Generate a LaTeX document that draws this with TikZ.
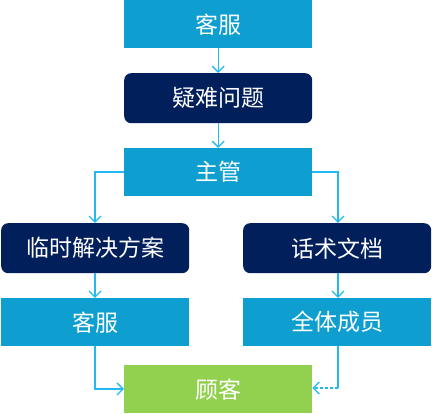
\documentclass[tikz,border=0pt]{standalone}
\usepackage{fontspec}
\newfontfamily\cjk{Noto Sans CJK SC}
\usetikzlibrary{arrows.meta}
\definecolor{lblue}{HTML}{0E9ECF}
\definecolor{navy}{HTML}{001F5B}
\definecolor{lgreen}{HTML}{92D050}
\definecolor{arr}{HTML}{22B8F2}
\begin{document}
\begin{tikzpicture}[x=1pt,y=-1pt,
  box/.style={minimum width=188pt,minimum height=48pt,inner sep=0pt,text=white,font=\cjk\fontsize{23}{27}\selectfont,anchor=north west},
  lbox/.style={box,fill=lblue},
  nbox/.style={box,fill=navy,rounded corners=7pt,minimum height=50pt},
  gbox/.style={box,fill=lgreen},
  conn/.style={draw=arr,line width=1.3pt,-{Straight Barb[length=6pt,width=12pt,line width=1.3pt]}}]
\useasboundingbox (0,0) rectangle (432,414);
\node[lbox] (kf1) at (124,0) {客服};
\node[nbox] (yn) at (124,73) {疑难问题};
\node[lbox] (zg) at (124,148) {主管};
\node[nbox] (ls) at (1,223) {临时解决方案};
\node[nbox] (hs) at (243,223) {话术文档};
\node[lbox] (kf2) at (1,298) {客服};
\node[lbox] (qt) at (243,298) {全体成员};
\node[gbox] (gk) at (124,365) {顾客};
\draw[conn] (kf1) -- (yn);
\draw[conn] (yn) -- (zg);
\draw[conn] (zg.west |- 0,172) -| (ls.north -| 95,0);
\draw[conn] (zg.east |- 0,172) -| (hs.north -| 338,0);
\draw[conn] (ls.south -| 95,0) -- (kf2.north -| 95,0);
\draw[conn] (hs.south -| 338,0) -- (qt.north -| 338,0);
\draw[conn] (kf2.south -| 95,0) |- (gk.west |- 0,389);
\coordinate (c1) at (338,388);
\draw[draw=arr,line width=1.3pt] (qt.south -| 338,0) -- (c1);
\draw[conn,dash pattern=on 3pt off 2pt] (c1) -- (gk.east |- c1);
\end{tikzpicture}
\end{document}
